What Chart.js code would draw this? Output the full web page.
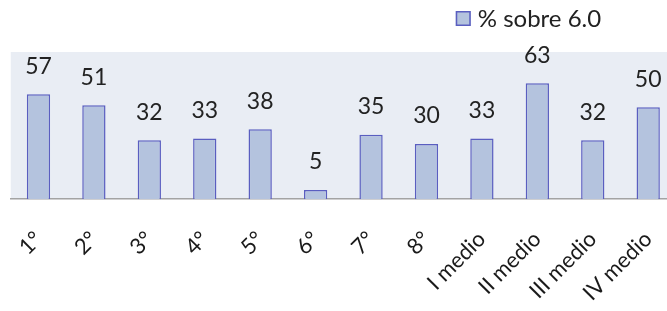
<!DOCTYPE html>
<html>
<head>
<meta charset="utf-8">
<script src="https://cdn.jsdelivr.net/npm/chart.js@4"></script>
<style>
  html, body { margin: 0; padding: 0; background: #fff; overflow: hidden; }
  #chart { position: absolute; left: -4px; top: 0; }
</style>
</head>
<body>
<canvas id="chart" width="698" height="333"></canvas>
<script>
const categories = ['1°', '2°', '3°', '4°', '5°', '6°', '7°', '8°', 'I medio', 'II medio', 'III medio', 'IV medio'];
const seriesLabel = '% sobre 6.0';
const values = [57, 51, 32, 33, 38, 5, 35, 30, 33, 63, 32, 50];

const fillColor = '#b4c3de';
const edgeColor = '#5a5ec0';
const fontFamily = 'Lato, "Open Sans", sans-serif';

// light background behind the plot
const plotBackground = {
    id: 'plotBackground',
    beforeDraw(chart) {
        const { ctx, chartArea: a } = chart;
        ctx.save();
        ctx.fillStyle = '#e9edf4';
        ctx.fillRect(a.left, a.top, a.right - a.left, a.bottom - a.top);
        ctx.restore();
    }
};

// value above each bar
const barValues = {
    id: 'barValues',
    afterDatasetsDraw(chart) {
        const ctx = chart.ctx;
        const meta = chart.getDatasetMeta(0);
        ctx.save();
        ctx.font = '23px ' + fontFamily;
        ctx.fillStyle = '#222';
        ctx.textAlign = 'center';
        ctx.textBaseline = 'middle';
        meta.data.forEach((bar, i) => {
            ctx.fillText(values[i], bar.x, bar.y - 28);
        });
        ctx.restore();
    }
};

// legend in the top right, like the original sheet
const sideLegend = {
    id: 'sideLegend',
    afterDraw(chart) {
        const ctx = chart.ctx;
        const x = chart.chartArea.left + 445;
        const y = 18.5;
        ctx.save();
        ctx.fillStyle = fillColor;
        ctx.strokeStyle = edgeColor;
        ctx.lineWidth = 1.5;
        ctx.fillRect(x, y - 7.5, 15, 15);
        ctx.strokeRect(x + 0.75, y - 6.75, 13.5, 13.5);
        ctx.font = '24px ' + fontFamily;
        ctx.fillStyle = '#222';
        ctx.textBaseline = 'middle';
        ctx.fillText(seriesLabel, x + 22, y + 1);
        ctx.restore();
    }
};

new Chart(document.getElementById('chart'), {
    type: 'bar',
    data: {
        labels: categories,
        datasets: [{
            label: seriesLabel,
            data: values,
            backgroundColor: fillColor,
            borderColor: edgeColor,
            borderWidth: { top: 1.5, left: 1.5, right: 1.5, bottom: 0 },
            borderSkipped: 'bottom',
            barPercentage: 0.42,
            categoryPercentage: 1
        }]
    },
    options: {
        responsive: false,
        animation: false,
        devicePixelRatio: 1,
        layout: { padding: { top: 52, left: 11, right: 7, bottom: 0 } },
        plugins: {
            legend: { display: false },
            tooltip: { enabled: false }
        },
        scales: {
            x: {
                grid: { display: false, drawTicks: false },
                border: { display: true, color: '#a3a3a3', width: 1.5 },
                ticks: {
                    font: { family: fontFamily, size: 22 },
                    color: '#1a1a1a',
                    minRotation: 45,
                    maxRotation: 45,
                    padding: 27
                }
            },
            y: {
                display: false,
                min: 0,
                max: 80
            }
        }
    },
    plugins: [plotBackground, barValues, sideLegend]
});
</script>
</body>
</html>
